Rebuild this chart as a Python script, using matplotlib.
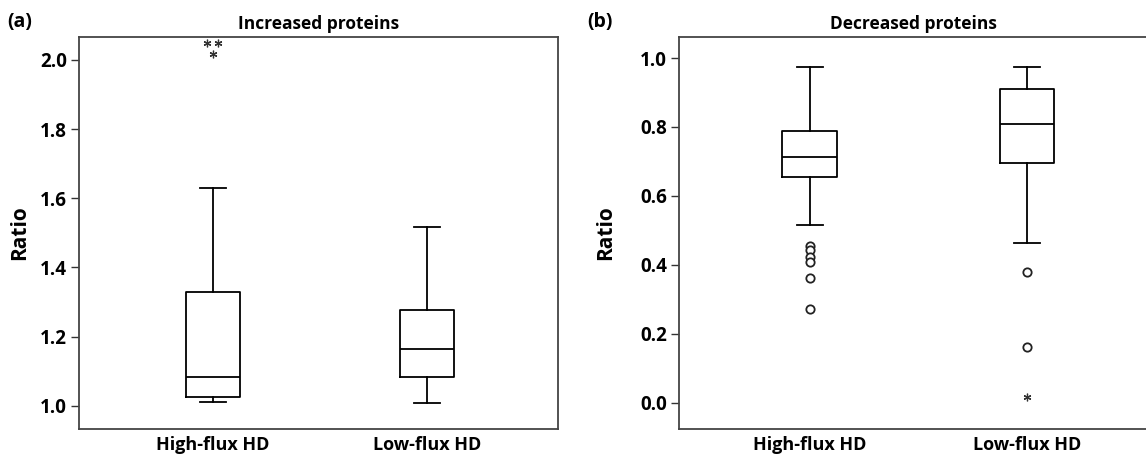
import matplotlib
matplotlib.use("Agg")
import matplotlib.pyplot as plt
import numpy as np

# data
groups = ["High-flux HD", "Low-flux HD"]

# (a) increased proteins: whisker low, Q1, median, Q3, whisker high
inc_low = [1.010, 1.007]
inc_q1 = [1.025, 1.082]
inc_med = [1.082, 1.163]
inc_q3 = [1.328, 1.278]
inc_high = [1.630, 1.518]
inc_circles = [[], []]
inc_stars = [[2.048, 2.048, 2.017], []]

# (b) decreased proteins
dec_low = [0.516, 0.464]
dec_q1 = [0.655, 0.696]
dec_med = [0.713, 0.810]
dec_q3 = [0.788, 0.909]
dec_high = [0.974, 0.974]
dec_circles = [[0.455, 0.442, 0.424, 0.409, 0.362, 0.271], [0.380, 0.163]]
dec_stars = [[], [0.016]]

plt.rcParams["font.family"] = ["Open Sans", "DejaVu Sans"]
plt.rcParams["font.weight"] = "bold"

fig = plt.figure(figsize=(11.46, 4.58), dpi=100)
ax_a = fig.add_axes([0.0692, 0.0633, 0.4181, 0.8559])
ax_b = fig.add_axes([0.5929, 0.0633, 0.4088, 0.8559])


def jitter(vals, step):
    # spread repeated values side by side
    vals = np.asarray(vals)
    offs = np.zeros(len(vals))
    for v in np.unique(vals):
        idx = np.where(vals == v)[0]
        offs[idx] = (np.arange(len(idx)) - (len(idx) - 1) / 2) * step
    return offs


def draw(ax, low, q1, med, q3, high, circles, stars, xlim, ylim, yticks, title, tag, tagx, ylpad):
    stats = []
    for i in range(len(groups)):
        stats.append(dict(whislo=low[i], q1=q1[i], med=med[i], q3=q3[i], whishi=high[i], label=groups[i]))
    lp = dict(color="black", lw=1.3)
    ax.bxp(stats, positions=[1, 2], widths=0.25, capwidths=0.12, showfliers=False,
           boxprops=lp, whiskerprops=lp, capprops=lp, medianprops=lp)
    for i in range(len(groups)):
        if circles[i]:
            ax.plot(np.full(len(circles[i]), i + 1), circles[i], "o", ms=6,
                    mfc="white", mec="#222222", mew=1.3, zorder=3)
        if stars[i]:
            ax.plot(i + 1 + jitter(stars[i], 0.05), stars[i], marker=(6, 2, 0), ls="none",
                    ms=5.5, color="#333333", mew=0.9, zorder=3)
    ax.set_xlim(*xlim)
    ax.set_ylim(*ylim)
    ax.set_yticks(yticks)
    ax.set_yticklabels([f"{t:.1f}" for t in yticks], fontweight="bold")
    ax.tick_params(axis="y", length=6, width=1, color="#333333", labelsize=13.5, pad=3)
    ax.tick_params(axis="x", length=0, labelsize=13, pad=5)
    for lbl in ax.get_xticklabels():
        lbl.set_fontweight("bold")
    for s in ax.spines.values():
        s.set_color("#444444")
        s.set_linewidth(1.3)
    ax.set_ylabel("Ratio", fontsize=15, fontweight="bold", labelpad=ylpad)
    ax.set_title(title, fontsize=12.5, fontweight="bold", pad=6)
    fig.text(tagx, 0.952, tag, fontsize=14, fontweight="bold", ha="left", va="center")


draw(ax_a, inc_low, inc_q1, inc_med, inc_q3, inc_high, inc_circles, inc_stars,
     (0.378, 2.612), (0.933, 2.066), [1.0, 1.2, 1.4, 1.6, 1.8, 2.0],
     "Increased proteins", "(a)", 0.006, 7)
draw(ax_b, dec_low, dec_q1, dec_med, dec_q3, dec_high, dec_circles, dec_stars,
     (0.4015, 2.557), (-0.076, 1.061), [0.0, 0.2, 0.4, 0.6, 0.8, 1.0],
     "Decreased proteins", "(b)", 0.512, 17)

fig.savefig("out.png", dpi=100)
